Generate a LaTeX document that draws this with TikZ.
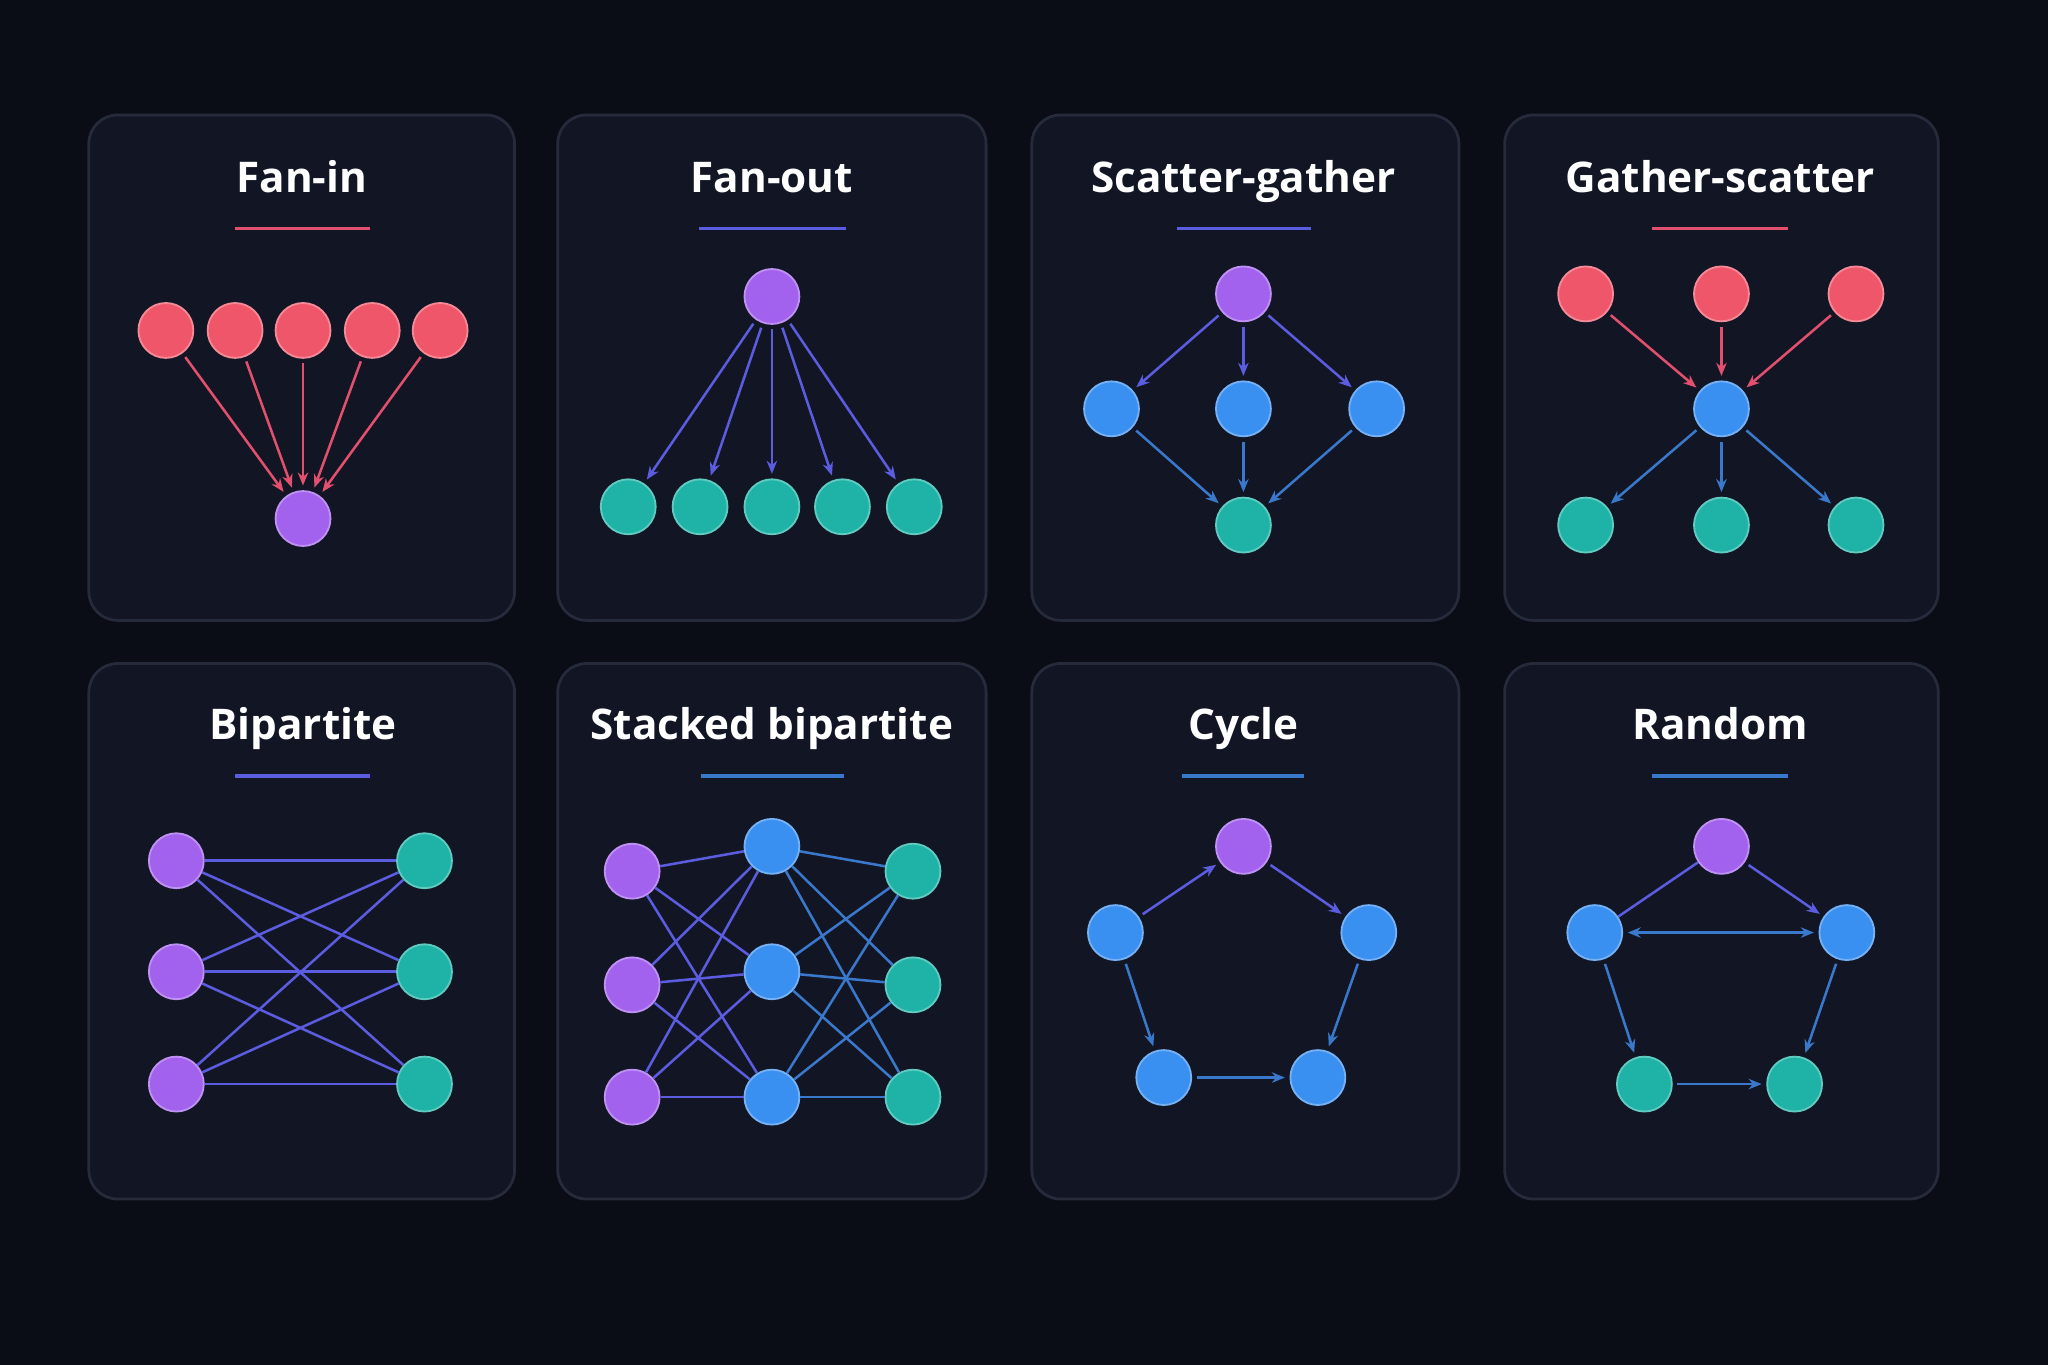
\documentclass[tikz,border=0pt]{standalone}
\usepackage{fontspec}
\setmainfont{Open Sans}
\usetikzlibrary{arrows.meta}
\definecolor{bg}{HTML}{0A0D16}
\definecolor{panel}{HTML}{121624}
\definecolor{pborder}{HTML}{262B3B}
\definecolor{cred}{HTML}{F0566A}
\definecolor{cpur}{HTML}{A262EE}
\definecolor{cblue}{HTML}{3A90F0}
\definecolor{cteal}{HTML}{1EB3A6}
\definecolor{ered}{HTML}{E2506E}
\definecolor{epur}{HTML}{5B5CE0}
\definecolor{eblue}{HTML}{3A78CC}
\tikzset{
  panelbox/.style={draw=pborder,fill=panel,rounded corners=0.22cm,line width=0.6pt},
  ttl/.style={text=white,font=\bfseries\fontsize{9.2}{11}\selectfont,anchor=base},
  nd/.style={circle,minimum size=0.42cm,inner sep=0pt},
  rn/.style={nd,fill=cred,draw=cred!70!white},
  pn/.style={nd,fill=cpur,draw=cpur!70!white},
  bn/.style={nd,fill=cblue,draw=cblue!70!white},
  tn/.style={nd,fill=cteal,draw=cteal!70!white},
  arr/.style={-{Stealth[length=0.1cm,width=0.08cm]},line width=0.55pt,shorten >=1pt,shorten <=1pt},
  ln/.style={line width=0.55pt},
}
\begin{document}
\begin{tikzpicture}[x=0.01cm,y=-0.01cm]
\fill[bg] (0,0) rectangle (1568,1045);
\useasboundingbox (0,0) rectangle (1568,1045);
% panels
\foreach \xa/\xb in {68/394,427/755,790/1117,1152/1484}{
  \draw[panelbox] (\xa,88) rectangle (\xb,475);
  \draw[panelbox] (\xa,508) rectangle (\xb,918);
}
% titles
\node[ttl] (t1) at (231,147) {Fan-in};
\node[ttl] (t2) at (591,147) {Fan-out};
\node[ttl] (t3) at (952,147) {Scatter-gather};
\node[ttl] (t4) at (1317,147) {Gather-scatter};
\node[ttl] (t5) at (232,566) {Bipartite};
\node[ttl] (t6) at (591,566) {Stacked bipartite};
\node[ttl] (t7) at (952,566) {Cycle};
\node[ttl] (t8) at (1317,566) {Random};
\draw[ered,line width=0.8pt] (180,175) -- (283,175);
\draw[epur,line width=0.8pt] (535,175) -- (648,175);
\draw[epur,line width=0.8pt] (901,175) -- (1004,175);
\draw[ered,line width=0.8pt] (1265,175) -- (1369,175);
\draw[epur,line width=0.8pt] (180,594) -- (283,594);
\draw[eblue,line width=0.8pt] (537,594) -- (646,594);
\draw[eblue,line width=0.8pt] (905,594) -- (998,594);
\draw[eblue,line width=0.8pt] (1265,594) -- (1369,594);
% Fan-in
\node[pn] (fib) at (232,397) {};
\foreach \i/\x in {1/127,2/180,3/232,4/285,5/337}{
  \node[rn] (fi\i) at (\x,253) {};
  \draw[arr,ered] (fi\i) -- (fib);
}
% Fan-out
\node[pn] (fot) at (591,227) {};
\foreach \i/\x in {1/481,2/536,3/591,4/645,5/700}{
  \node[tn] (fo\i) at (\x,388) {};
  \draw[arr,epur] (fot) -- (fo\i);
}
% Scatter-gather
\node[pn] (sgt) at (952,225) {};
\node[bn] (sg1) at (851,313) {};
\node[bn] (sg2) at (952,313) {};
\node[bn] (sg3) at (1054,313) {};
\node[tn] (sgb) at (952,402) {};
\foreach \i in {1,2,3}{
  \draw[arr,epur] (sgt) -- (sg\i);
  \draw[arr,eblue] (sg\i) -- (sgb);
}
% Gather-scatter
\node[bn] (gsm) at (1318,313) {};
\foreach \i/\x in {1/1214,2/1318,3/1421}{
  \node[rn] (gst\i) at (\x,225) {};
  \node[tn] (gsb\i) at (\x,402) {};
  \draw[arr,ered] (gst\i) -- (gsm);
  \draw[arr,eblue] (gsm) -- (gsb\i);
}
% Bipartite
\foreach \i/\y in {1/659,2/744,3/830}{
  \node[pn] (bl\i) at (135,\y) {};
  \node[tn] (br\i) at (325,\y) {};
}
\foreach \i in {1,2,3}{\foreach \j in {1,2,3}{
  \draw[ln,epur] (bl\i) -- (br\j);
}}
% Stacked bipartite
\foreach \i/\y/\z in {1/667/648,2/754/744,3/840/840}{
  \node[pn] (sl\i) at (484,\y) {};
  \node[bn] (sm\i) at (591,\z) {};
  \node[tn] (sr\i) at (699,\y) {};
}
\foreach \i in {1,2,3}{\foreach \j in {1,2,3}{
  \draw[ln,epur] (sl\i) -- (sm\j);
  \draw[ln,eblue] (sm\i) -- (sr\j);
}}
% Cycle
\node[pn] (ct) at (952,648) {};
\node[bn] (cl) at (854,714) {};
\node[bn] (cr) at (1048,714) {};
\node[bn] (cbl) at (891,825) {};
\node[bn] (cbr) at (1009,825) {};
\draw[arr,epur] (cl) -- (ct);
\draw[arr,epur] (ct) -- (cr);
\draw[arr,eblue] (cr) -- (cbr);
\draw[arr,eblue] (cl) -- (cbl);
\draw[arr,eblue] (cbl) -- (cbr);
% Random
\node[pn] (rt) at (1318,648) {};
\node[bn] (rl) at (1221,714) {};
\node[bn] (rr) at (1414,714) {};
\node[tn] (rbl) at (1259,830) {};
\node[tn] (rbr) at (1374,830) {};
\draw[ln,epur] (rl) -- (rt);
\draw[arr,epur] (rt) -- (rr);
\draw[arr,eblue,{Stealth[length=0.1cm,width=0.08cm]}-{Stealth[length=0.1cm,width=0.08cm]}] (rl) -- (rr);
\draw[arr,eblue] (rl) -- (rbl);
\draw[arr,eblue] (rr) -- (rbr);
\draw[arr,eblue] (rbl) -- (rbr);
\end{tikzpicture}
\end{document}
